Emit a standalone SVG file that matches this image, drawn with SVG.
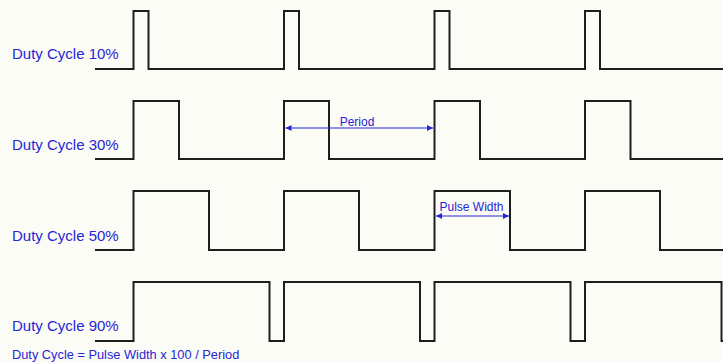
<svg xmlns="http://www.w3.org/2000/svg" width="723" height="362" viewBox="0 0 723 362">
<defs>
<style>
.wave{fill:none;stroke:#1e1e1e;stroke-width:2;stroke-linejoin:miter}
.lbl{font-family:"Liberation Sans",Arial,sans-serif;font-size:15px;fill:#2626d4}
.small{font-family:"Liberation Sans",Arial,sans-serif;font-size:12px;fill:#2626d4}
.dim{stroke:#2626d4;stroke-width:1.2;fill:none}
</style>
<marker id="ah" viewBox="0 0 10 10" refX="10" refY="5" markerWidth="9" markerHeight="6" markerUnits="userSpaceOnUse" orient="auto-start-reverse">
<path d="M0,0 L10,5 L0,10 z" fill="#2626d4"/>
</marker>
</defs>
<rect width="723" height="362" fill="#fcfcf7"/>
<g id="row10">
<text class="lbl" x="12" y="59">Duty Cycle 10%</text>
<path class="wave" d="M95 69 H133.5 V11 H148.5 V69 H284 V11 H299 V69 H434.5 V11 H449.5 V69 H585 V11 H600 V69 H723"/>
</g>
<g id="row30">
<text class="lbl" x="12" y="150">Duty Cycle 30%</text>
<path class="wave" d="M95 159 H133.5 V101 H179 V159 H284 V101 H329 V159 H434.5 V101 H480 V159 H585 V101 H630.5 V159 H723"/>
</g>
<g id="row50">
<text class="lbl" x="12" y="241">Duty Cycle 50%</text>
<path class="wave" d="M95 250 H133.5 V191 H209 V250 H284 V191 H359 V250 H434.5 V191 H510 V250 H585 V191 H660 V250 H723"/>
</g>
<g id="row90">
<text class="lbl" x="12" y="331">Duty Cycle 90%</text>
<path class="wave" d="M95 341 H133.5 V282 H269.5 V341 H284 V282 H420 V341 H434.5 V282 H570.5 V341 H585 V282 H721.5 V341 H723"/>
</g>
<g id="connectors">
<line class="dim" x1="285.5" y1="128" x2="433" y2="128" marker-start="url(#ah)" marker-end="url(#ah)"/>
<line class="dim" x1="436" y1="216" x2="509" y2="216" marker-start="url(#ah)" marker-end="url(#ah)"/>
</g>
<g id="labels">
<text class="small" x="357" y="126" text-anchor="middle">Period</text>
<text class="small" x="471.5" y="211" text-anchor="middle">Pulse Width</text>
<text class="small" x="12" y="359" style="font-size:12.8px">Duty Cycle = Pulse Width x 100 / Period</text>
</g>
</svg>
